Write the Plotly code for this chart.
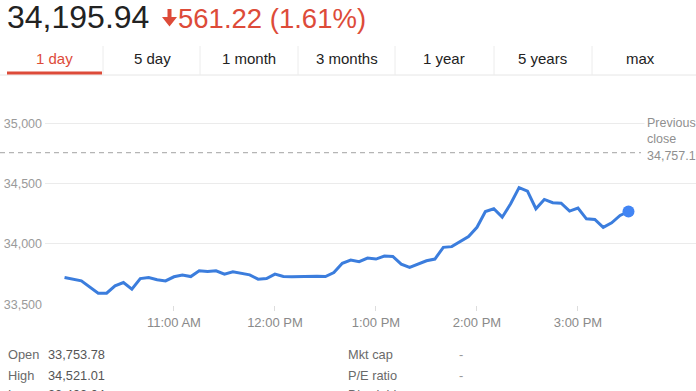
import plotly.graph_objects as go

# ---------------- data ----------------
times = ["09:55", "10:05", "10:15", "10:20", "10:25", "10:30", "10:35", "10:40", "10:45", "10:50",
         "10:55", "11:00", "11:05", "11:10", "11:15", "11:20", "11:25", "11:30", "11:35", "11:40",
         "11:45", "11:50", "11:55", "12:00", "12:05", "12:10", "12:15", "12:20", "12:25", "12:30",
         "12:35", "12:40", "12:45", "12:50", "12:55", "13:00", "13:05", "13:10", "13:15", "13:20",
         "13:25", "13:30", "13:35", "13:40", "13:45", "13:50", "13:55", "14:00", "14:05", "14:10",
         "14:15", "14:20", "14:25", "14:30", "14:35", "14:40", "14:45", "14:50", "14:55", "15:00",
         "15:05", "15:10", "15:15", "15:20", "15:25", "15:30"]
values = [33722, 33694, 33592, 33592, 33653, 33680, 33625, 33713, 33722, 33703,
          33694, 33728, 33742, 33730, 33778, 33772, 33778, 33750, 33769, 33758,
          33744, 33708, 33713, 33750, 33730, 33728, 33730, 33733, 33733, 33730,
          33763, 33840, 33867, 33853, 33883, 33875, 33900, 33897, 33833, 33805,
          33833, 33861, 33875, 33972, 33978, 34022, 34061, 34138, 34269, 34292,
          34222, 34333, 34467, 34438, 34292, 34369, 34342, 34338, 34272, 34297,
          34208, 34203, 34138, 34175, 34236, 34269]
previous_close = 34757.1
y_ticks = [33500, 34000, 34500, 35000]
x_tick_times = ["11:00", "12:00", "13:00", "14:00", "15:00"]
x_tick_labels = ["11:00 AM", "12:00 PM", "1:00 PM", "2:00 PM", "3:00 PM"]
price_text = "34,195.94"
change_text = "561.22 (1.61%)"
tabs = ["1 day", "5 day", "1 month", "3 months", "1 year", "5 years", "max"]
stats_left = [("Open", "33,753.78"), ("High", "34,521.01"), ("Low", "33,493.04")]
stats_right = [("Mkt cap", "-"), ("P/E ratio", "-"), ("Div yield", "-")]

DAY = "2018-02-02 "
xs = [DAY + t for t in times]

# ---------------- layout geometry (page pixels) ----------------
W, H = 696, 391
L, T, B_PIX = 45, 95, 305
PW, PH = W - L, B_PIX - T


def px(x):
    return (x - L) / PW


def py(y):
    return (B_PIX - y) / PH


FONT = "Liberation Sans, Arial, sans-serif"
RED = "#dd4b39"
BLUE = "#3b7ddd"

fig = go.Figure()
fig.add_trace(go.Scatter(x=xs, y=values, mode="lines",
                         line=dict(color=BLUE, width=3), hoverinfo="skip"))
fig.add_trace(go.Scatter(x=[xs[-1]], y=[values[-1]], mode="markers",
                         marker=dict(color="#4285f4", size=12), hoverinfo="skip"))

shapes = []
shapes.append(dict(type="line", xref="paper", yref="y", x0=px(0), x1=px(641),
                   y0=previous_close, y1=previous_close,
                   line=dict(color="#b5b5b5", width=1.2, dash="5px,4px")))
shapes.append(dict(type="line", xref="paper", yref="paper", x0=px(0), x1=px(W),
                   y0=py(75), y1=py(75), line=dict(color="#e6e6e6", width=1)))
for sx in [103, 200, 298, 395, 494, 592]:
    shapes.append(dict(type="line", xref="paper", yref="paper", x0=px(sx), x1=px(sx),
                       y0=py(46), y1=py(75), line=dict(color="#ececec", width=1)))
shapes.append(dict(type="rect", xref="paper", yref="paper", x0=px(7), x1=px(102),
                   y0=py(74.5), y1=py(71.5), line=dict(width=0), fillcolor=RED))
arrow = "M {a},{b} L {c},{b} L {c},{d} L {e},{d} L {f},{g} L {h},{d} L {a},{d} Z".format(
    a=px(167.5), b=py(9), c=px(171.5), d=py(17), e=px(177), f=px(169.5), g=py(26.5), h=px(162))
shapes.append(dict(type="path", xref="paper", yref="paper", path=arrow,
                   line=dict(width=0), fillcolor=RED))

ann = []
ann.append(dict(text=price_text, x=px(5), y=py(17), xanchor="left", yanchor="middle",
                font=dict(size=32, color="#222222", family=FONT)))
ann.append(dict(text=change_text, x=px(176), y=py(18), xanchor="left", yanchor="middle",
                font=dict(size=27.5, color=RED, family=FONT)))
tab_centers = [54, 152, 249, 347, 444, 542, 640]
for name, cx in zip(tabs, tab_centers):
    ann.append(dict(text=name, x=px(cx), y=py(59), xanchor="center", yanchor="middle",
                    font=dict(size=15, color=RED if name == "1 day" else "#222222", family=FONT)))
ann.append(dict(text="Previous<br>close<br>34,757.10", x=px(644), y=py(113), xanchor="left",
                yanchor="top", align="left", bgcolor="white", borderpad=2,
                font=dict(size=12.5, color="#8f8f8f", family=FONT)))
row_y = [354, 375, 394]
for i, (lab, val) in enumerate(stats_left):
    yy = row_y[i]
    ann.append(dict(text=lab, x=px(6), y=py(yy), xanchor="left", yanchor="middle",
                    font=dict(size=12.8, color="#6a6a6a", family=FONT)))
    ann.append(dict(text=val, x=px(46), y=py(yy), xanchor="left", yanchor="middle",
                    font=dict(size=12.8, color="#555555", family=FONT)))
for i, (lab, val) in enumerate(stats_right):
    yy = row_y[i]
    ann.append(dict(text=lab, x=px(346), y=py(yy), xanchor="left", yanchor="middle",
                    font=dict(size=12.8, color="#6a6a6a", family=FONT)))
    ann.append(dict(text=val, x=px(457), y=py(yy), xanchor="left", yanchor="middle",
                    font=dict(size=12.8, color="#999999", family=FONT)))
for a in ann:
    a.update(xref="paper", yref="paper", showarrow=False)

fig.update_layout(
    width=W, height=H,
    margin=dict(l=L, r=0, t=T, b=H - B_PIX),
    paper_bgcolor="white", plot_bgcolor="white",
    showlegend=False,
    shapes=shapes, annotations=ann,
    xaxis=dict(range=[DAY + "09:43:24", DAY + "16:10:06"], type="date",
               tickvals=[DAY + t for t in x_tick_times], ticktext=x_tick_labels,
               showgrid=False, zeroline=False, showline=False,
               ticks="outside", ticklen=5, tickcolor="#dddddd", tickwidth=1,
               tickfont=dict(size=13, color="#8a8a8a", family=FONT), fixedrange=True),
    yaxis=dict(range=[33494.2, 35234.5], tickvals=y_ticks,
               ticktext=[f"{v:,}" for v in y_ticks],
               showgrid=True, gridcolor="#ebebeb", gridwidth=1, zeroline=False,
               showline=False, ticks="", ticklabelstandoff=2,
               tickfont=dict(size=12.5, color="#9a9a9a", family=FONT), fixedrange=True),
)

fig.write_html("out.html", config={"displayModeBar": False},
               post_script="document.body.style.margin='0px';document.body.style.overflow='hidden';")
